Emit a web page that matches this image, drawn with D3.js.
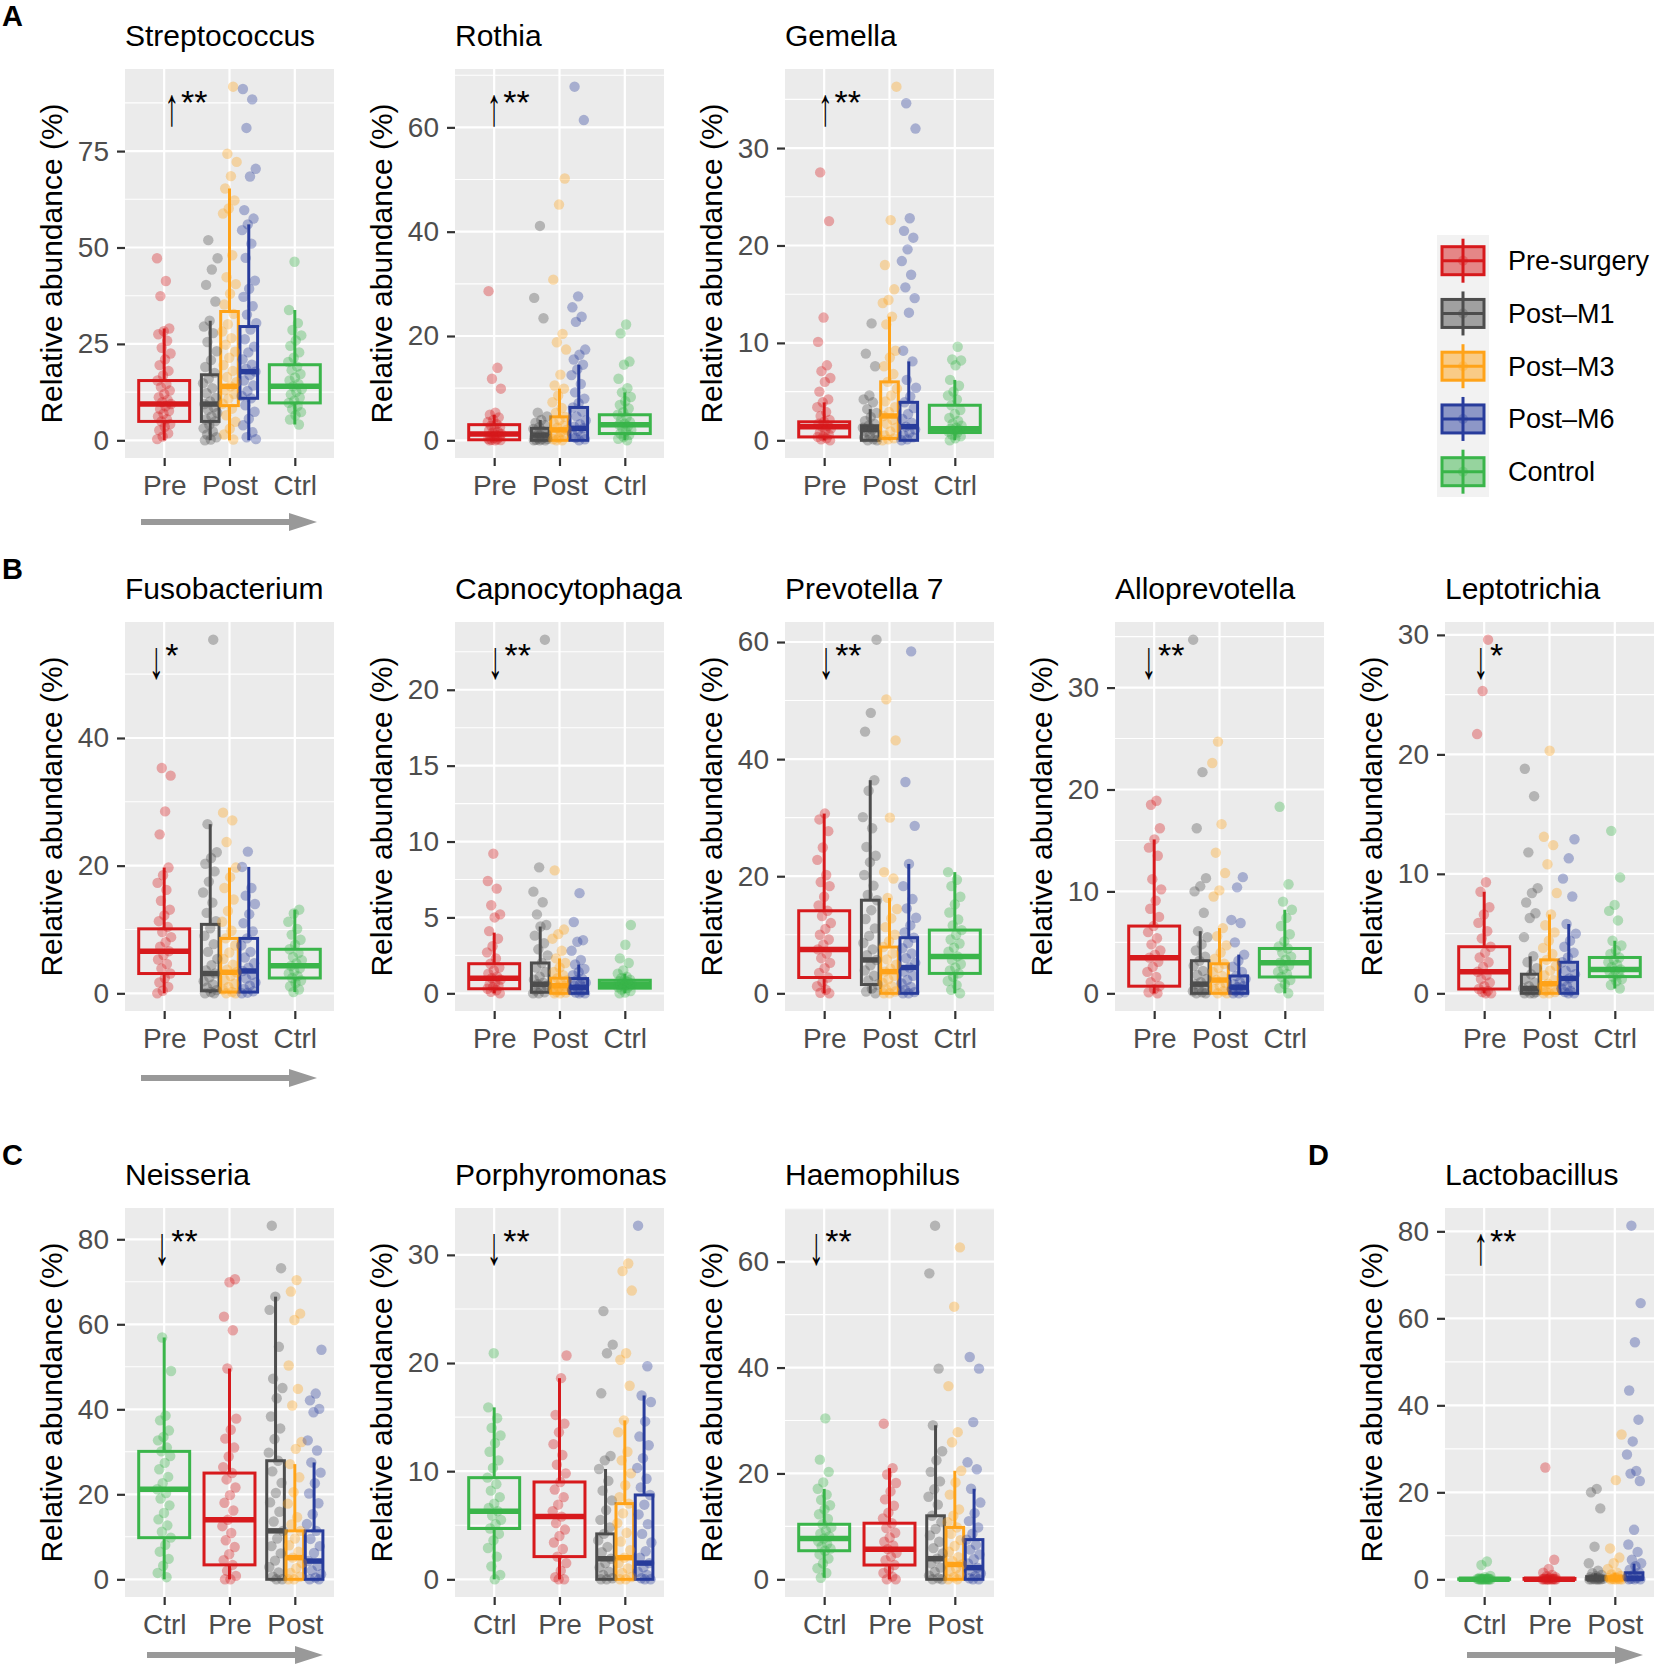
<!DOCTYPE html>
<html><head><meta charset="utf-8">
<script src="https://cdn.jsdelivr.net/npm/d3@7"></script>
<style>body{margin:0;background:#fff;} svg{display:block;}</style>
</head><body>
<svg id="chart" width="1654" height="1666"></svg>
<script>
// ---------------- DATA ----------------
const groupNames = ["Pre-surgery", "Post\u2013M1", "Post\u2013M3", "Post\u2013M6", "Control"];
const genera = ["Streptococcus","Rothia","Gemella","Fusobacterium","Capnocytophaga","Prevotella 7",
  "Alloprevotella","Leptotrichia","Neisseria","Porphyromonas","Haemophilus","Lactobacillus"];
const yTicks = [[0,25,50,75],[0,20,40,60],[0,10,20,30],[0,20,40],[0,5,10,15,20],[0,20,40,60],
  [0,10,20,30],[0,10,20,30],[0,20,40,60,80],[0,10,20,30],[0,20,40,60],[0,20,40,60,80]];
const significance = ["\u2191**","\u2191**","\u2191**","\u2193*","\u2193**","\u2193**","\u2193**","\u2193*","\u2193**","\u2193**","\u2193**","\u2191**"];
const xLabelsPrePostCtrl = ["Pre","Post","Ctrl"];
const xLabelsCtrlPrePost = ["Ctrl","Pre","Post"];
const panelLetters = ["A","B","C","D"];

// box stats per group, order: Pre, M1, M3, M6, Ctrl ; each [lowerWhisker, q1, median, q3, upperWhisker]
const streptococcusBox = [[0,4.9,9.4,15.5,29],[0,4.9,9.4,17,31],[0,9,14,33.4,65.3],[0,10.9,17.8,29.5,56],[4.1,9.7,14,19.6,33.8]];
const rothiaBox = [[0,0.1,1.2,3.0,4.9],[0,0,1.0,2.3,3.9],[0,0,2.0,4.5,9.9],[0,0,2.3,6.3,14.5],[0,1.3,3.0,4.9,9.2]];
const gemellaBox = [[0,0.35,1.4,1.9,3.9],[0,0,1.1,1.5,3.2],[0,0.2,2.5,6.0,12.7],[0,0,1.4,3.9,8.1],[0,0.8,1.2,3.6,6.2]];
const fusobacteriumBox = [[0,3.1,6.6,10.1,19.7],[0,0.4,3.1,10.8,26.5],[0,0.2,3.3,8.6,19.7],[0,0.2,3.5,8.6,19.8],[0.2,2.4,4.3,6.9,13.1]];
const capnocytophagaBox = [[0,0.3,1.0,1.95,4.0],[0,0.07,0.6,2.0,4.4],[0,0,0.5,1.0,2.3],[0,0,0.4,0.97,1.9],[0,0.34,0.6,0.86,1.3]];
const prevotellaBox = [[0,2.7,7.5,14.1,30.7],[0,1.5,5.7,15.9,36.4],[0,0,3.7,7.9,16.3],[0,0,4.4,9.5,22.1],[0,3.4,6.3,10.8,20.7]];
const alloprevotellaBox = [[0,0.7,3.5,6.6,15.1],[0,0,0.9,3.2,6.1],[0,0,1.3,2.9,6.4],[0,0,0.6,1.7,3.8],[0,1.6,3.0,4.4,8.2]];
const leptotrichiaBox = [[0,0.36,1.8,3.9,8.5],[0,0,0.4,1.6,3.1],[0,0,0.8,2.8,6.6],[0,0,1.25,2.6,5.8],[0.4,1.4,2.0,3.0,4.4]];
const neisseriaBox = [[0,3.4,14.0,25.0,49.6],[0,0,11.4,27.9,66.5],[0,0,5.1,11.4,27.1],[0,0,4.3,11.4,27.5],[0,9.8,21.2,30.1,56.9]];
const porphyromonasBox = [[0,2.1,5.8,9.0,18.6],[0,0,1.9,4.2,10.2],[0,0,2.0,7.0,14.7],[0,0,1.5,7.8,17.0],[0,4.7,6.3,9.4,15.9]];
const haemophilusBox = [[0,2.7,5.7,10.6,21.0],[0,0,3.9,12.0,29.1],[0,0,2.8,9.8,20.5],[0,0,2.2,7.5,17.1],[0.3,5.4,7.7,10.4,17.1]];
const lactobacillusBox = [[0,0,0,0.2,0.5],[0,0,0.1,0.6,1.4],[0,0,0.1,0.6,1.5],[0,0,0.2,1.5,3.6],[0,0,0,0.1,0.2]];

// individual samples per group, order: Pre, M1, M3, M6, Ctrl
const streptococcusPts = [
  [47.2,41.3,37.4,29,28.3,27.5,25.8,24,22.5,21,19.5,18,16.8,15.5,14.6,13.8,12.9,12,11.2,10.5,9.9,9.4,8.8,8.1,7.6,6.9,6.2,5.5,4.9,4.2,3.5,2.6,1.8,1.0,0.3],
  [51.9,47.2,44.3,40.3,36,31,29.5,27.8,25.5,23.1,20.8,19,17.5,16,14.8,13.5,12.2,11,10.1,9.4,8.6,7.9,7.1,6.2,5.4,4.9,4,3.1,2.3,1.5,0.8,0.2,0],
  [91.7,74.3,72.2,68.5,65.3,62.2,60.1,58.8,48,42.3,40.5,38,35.2,32.8,30.1,28.2,26.5,24.8,23,21.4,19.5,18,16.4,15.1,14,13,12,10.8,9.5,8.2,6.5,4.8,3,1.5,0.2],
  [91.1,88.4,81,70.4,68.4,59.7,57.5,56,54.5,51,47.3,41.4,39.3,37.2,34.8,32.6,30.4,28.7,26.2,24.3,22.8,21,19.6,18.5,17.8,16.9,15.5,14.2,12.8,11.5,10.9,9.1,7.4,5.6,3.9,2.1,0.8,0.3],
  [46.3,33.8,30.4,28.6,27.2,25.9,24.5,22.8,21.4,20.3,19.1,18.2,17.2,16.3,15.5,14.6,14,13.3,12.6,11.9,11.1,10.3,9.7,8.9,8.1,7.3,6.5,5.4,4.1]];
const rothiaPts = [
  [28.6,13.9,11.8,9.9,5.3,4.9,4.4,3.9,3.5,3.1,2.8,2.5,2.2,1.9,1.6,1.4,1.2,1.0,0.8,0.6,0.5,0.3,0.2,0.1,0.05,0,0],
  [41.1,27.3,23.4,5.3,4.6,3.9,3.4,2.9,2.5,2.2,1.8,1.5,1.2,1.0,0.8,0.6,0.4,0.3,0.2,0.1,0,0,0],
  [50.2,45.2,30.8,20.4,18.8,17.4,12.6,10.5,9.9,8.6,7.3,6.2,5.3,4.5,3.9,3.3,2.8,2.4,2.0,1.6,1.2,0.8,0.5,0.2,0,0],
  [67.8,61.4,27.6,25.5,23.7,22.7,17.4,16.4,15.5,14.5,13.6,12.5,10.8,9.2,8,7.1,6.3,5.5,4.6,3.8,3.1,2.6,2.3,1.8,1.3,0.9,0.5,0.2,0],
  [22.2,20.5,15.1,14.5,11.8,10.0,9.2,8.3,7.5,6.8,6.1,5.4,4.9,4.4,3.9,3.5,3.2,3.0,2.7,2.3,2.0,1.7,1.3,1.0,0.6,0.3,0]];
const gemellaPts = [
  [27.5,22.5,12.6,10.1,7.7,7.1,6.4,6.0,5.0,4.2,3.9,3.4,2.9,2.5,2.1,1.9,1.7,1.5,1.4,1.2,1.0,0.8,0.6,0.4,0.35,0.2,0.1,0],
  [12.0,8.9,7.6,4.6,4.2,3.9,3.2,2.8,2.4,2.0,1.7,1.5,1.3,1.1,0.9,0.7,0.5,0.3,0.1,0,0],
  [36.3,22.6,18.0,15.5,14.4,14.1,12.7,11.9,9.2,8.5,7.6,6.8,6.0,5.3,4.6,4.0,3.4,2.9,2.5,2.1,1.7,1.3,0.9,0.5,0.2,0.1,0],
  [34.6,32.0,22.8,21.5,20.8,19.6,18.4,17.0,15.7,14.6,13.1,9.2,8.1,6.2,5.4,4.5,3.9,3.3,2.7,2.2,1.8,1.4,1.1,0.8,0.5,0.3,0.1,0],
  [9.6,8.3,8.2,7.7,6.2,5.6,5.0,4.6,4.2,3.6,3.1,2.7,2.3,2.0,1.7,1.5,1.3,1.2,1.1,1.0,0.9,0.8,0.6,0.4,0.2,0]];
const fusobacteriumPts = [
  [35.3,34.1,28.5,24.9,19.7,18.5,17.3,16.2,14.5,13.1,12.2,11.3,10.4,9.6,8.8,8.0,7.3,6.6,6.0,5.3,4.6,3.9,3.1,2.4,1.7,1.0,0.4,0],
  [55.4,26.5,22.1,21.2,20.3,19.1,17.5,15.8,14.2,12.6,11.3,10.2,9.0,7.7,6.5,5.4,4.4,3.6,3.1,2.5,1.9,1.4,0.9,0.5,0.2,0,0],
  [28.3,27.1,23.7,19.7,18.2,16.5,14.7,12.9,11.2,9.8,8.6,7.5,6.4,5.4,4.5,3.7,3.3,2.7,2.1,1.5,1.0,0.6,0.2,0,0],
  [22.2,19.8,16.5,15.3,14.0,12.4,11.0,9.7,8.6,7.5,6.5,5.6,4.7,4.0,3.5,2.9,2.3,1.7,1.2,0.7,0.3,0.1,0],
  [13.1,12.5,11.2,10.1,9.2,8.4,7.6,6.9,6.3,5.7,5.2,4.7,4.3,3.9,3.5,3.1,2.7,2.4,2.0,1.6,1.1,0.6,0.2]];
const capnocytophagaPts = [
  [9.2,7.4,6.9,5.8,5.2,5.0,4.1,3.6,3.1,2.7,2.3,1.95,1.7,1.5,1.3,1.1,1.0,0.9,0.7,0.6,0.5,0.4,0.3,0.2,0.1,0],
  [23.3,8.3,6.7,6.0,5.2,4.5,4.4,3.8,3.3,2.9,2.5,2.0,1.7,1.4,1.1,0.9,0.7,0.6,0.5,0.3,0.2,0.07,0,0],
  [8.1,4.2,3.9,3.6,2.8,2.3,2.0,1.7,1.4,1.2,1.0,0.85,0.7,0.6,0.5,0.4,0.3,0.2,0.1,0.05,0,0],
  [6.6,4.7,3.5,3.4,2.8,2.2,1.9,1.6,1.4,1.2,0.97,0.85,0.7,0.6,0.5,0.4,0.3,0.2,0.1,0.05,0,0],
  [4.5,3.2,2.3,2.0,1.5,1.3,1.1,1.0,0.9,0.86,0.8,0.75,0.7,0.65,0.6,0.55,0.5,0.45,0.4,0.34,0.25,0.15,0.05,0]];
const prevotellaPts = [
  [30.7,29.7,27.7,24.9,22.8,20.2,19,18.3,16.5,15,14.1,13.2,12,11,10,9.2,8.3,7.5,6.8,6.0,5.2,4.3,3.5,2.7,1.9,1.2,0.6,0.1,0],
  [60.4,47.9,44.7,36.4,34.6,30.1,28.2,25.0,23.5,22.4,20.2,18.4,16.8,15.9,14.2,12.7,11.1,9.8,8.6,7.5,6.5,5.7,4.8,3.9,3.0,2.2,1.5,0.8,0.3,0],
  [50.2,43.2,30.0,20.7,19.6,16.3,14.4,12.8,11.3,10.0,8.9,7.9,6.8,5.8,4.9,4.2,3.7,3.0,2.4,1.8,1.2,0.7,0.3,0,0],
  [58.4,36.1,28.6,22.1,18.3,16.1,14.5,12.9,11.6,10.4,9.5,8.6,7.7,6.8,6.0,5.2,4.4,3.7,3.0,2.3,1.7,1.1,0.6,0.2,0,0],
  [20.7,19.4,18.3,16.5,15.2,13.8,12.6,11.6,10.8,10.0,9.2,8.5,7.8,7.1,6.3,5.7,5.0,4.4,3.9,3.4,2.8,2.1,1.4,0.6,0]];
const alloprevotellaPts = [
  [18.9,18.5,16.2,15.1,14.3,13.5,11.2,10.2,9.1,8.3,7.5,6.6,6.0,5.4,4.8,4.2,3.8,3.5,3.1,2.6,2.1,1.6,1.1,0.7,0.4,0.1,0],
  [34.7,21.7,16.2,11.3,10.5,10.0,7.9,6.1,5.5,4.8,4.2,3.6,3.2,2.7,2.2,1.8,1.4,1.1,0.9,0.6,0.4,0.2,0.1,0,0],
  [24.7,22.6,16.6,13.8,11.8,10.1,9.5,6.4,5.6,4.7,4.0,3.4,2.9,2.5,2.1,1.7,1.3,1.0,0.7,0.4,0.2,0,0],
  [11.4,10.4,7.2,6.9,5.0,3.8,3.2,2.6,2.1,1.7,1.4,1.1,0.9,0.7,0.6,0.4,0.3,0.2,0.1,0,0],
  [18.3,10.7,9.0,8.2,7.4,6.6,5.8,5.1,4.6,4.4,4.0,3.6,3.3,3.0,2.7,2.4,2.1,1.9,1.6,1.3,0.9,0.5,0]];
const leptotrichiaPts = [
  [29.6,25.3,21.7,9.3,8.5,7.2,6.6,5.9,5.2,4.6,3.9,3.4,3.0,2.6,2.2,1.8,1.5,1.2,0.9,0.6,0.36,0.2,0.1,0,0],
  [18.8,16.5,11.8,8.8,8.4,7.6,6.7,6.3,4.7,3.1,2.6,2.1,1.6,1.2,0.9,0.6,0.4,0.3,0.2,0.1,0,0,0],
  [20.3,13.1,12.4,10.8,8.4,6.6,5.7,5.1,4.4,3.8,3.3,2.8,2.3,1.9,1.5,1.1,0.8,0.6,0.4,0.2,0.1,0,0],
  [12.9,11.3,9.6,8.1,5.8,5.0,4.4,3.9,3.4,3.0,2.6,2.2,1.9,1.6,1.25,1.0,0.8,0.6,0.4,0.2,0.1,0,0],
  [13.6,9.7,7.4,6.9,6.1,4.4,4.0,3.6,3.3,3.0,2.8,2.6,2.4,2.2,2.0,1.9,1.8,1.6,1.4,1.2,1.0,0.7,0.4]];
const neisseriaPts = [
  [70.6,69.9,61.8,58.6,49.6,37.8,35.2,33.1,31.0,28.9,26.4,25.0,23.5,21.6,19.8,18.0,16.2,14.0,12.5,10.9,9.2,7.6,5.9,4.5,3.4,2.0,0.8,0,0],
  [83.2,73.2,66.5,63.4,54.7,47.2,45.0,42.6,38.3,35.5,33.0,29.8,27.9,25.4,22.7,20.3,18.1,15.9,13.6,11.4,9.6,7.8,6.1,4.4,2.9,1.6,0.6,0,0],
  [70.4,67.7,62.5,61.0,50.3,44.8,40.9,32.3,30.7,27.1,24.0,20.5,17.8,14.6,12.9,11.4,9.6,8.0,6.5,5.1,3.8,2.6,1.5,0.6,0,0],
  [54.0,43.7,42.1,40.1,39.3,32.7,30.3,27.5,25.1,22.6,20.2,17.9,15.3,13.0,11.4,9.5,7.8,6.2,4.3,3.2,2.1,1.2,0.4,0,0],
  [56.9,49.0,38.5,37.4,35.0,33.5,32.7,31.0,30.1,29.0,27.4,25.9,24.1,22.6,21.2,20.3,19.0,17.4,15.6,14.1,12.7,11.2,9.8,8.1,6.5,4.8,3.2,1.5,0.5]];
const porphyromonasPts = [
  [20.7,18.6,15.2,14.4,13.6,12.5,11.5,10.6,9.8,9.0,8.3,7.6,6.9,6.3,5.8,5.2,4.6,4.0,3.4,2.8,2.1,1.5,0.8,0.2,0,0],
  [24.8,21.7,20.9,17.2,11.4,11.0,10.2,9.1,8.2,7.3,6.4,5.5,4.8,4.2,3.6,3.0,2.5,1.9,1.5,1.1,0.7,0.4,0.1,0,0],
  [29.2,28.5,26.7,20.9,20.3,17.9,14.7,13.6,11.8,11.0,9.8,8.7,7.6,7.0,6.1,5.2,4.3,3.5,2.7,2.0,1.5,1.0,0.6,0.2,0,0],
  [32.7,19.7,17.0,16.4,14.6,13.2,12.4,11.2,10.3,9.3,8.5,7.8,6.9,6.0,5.1,4.2,3.4,2.6,2.0,1.5,1.1,0.7,0.4,0.1,0,0],
  [20.9,15.9,14.9,14.0,13.3,12.6,11.8,11.0,10.3,9.4,8.8,8.2,7.6,7.0,6.6,6.3,5.9,5.5,5.1,4.7,4.2,3.6,2.9,2.1,1.2,0.4,0]];
const haemophilusPts = [
  [29.4,21.0,19.8,18.2,16.6,15.1,13.9,12.6,11.5,10.6,9.7,8.8,7.9,7.1,6.4,5.7,5.0,4.3,3.6,2.7,1.9,1.2,0.5,0,0],
  [66.8,57.8,39.8,29.1,24.2,22.5,20.3,18.5,17.0,15.6,14.1,12.0,10.8,9.5,8.3,7.1,5.9,4.9,3.9,3.0,2.2,1.4,0.7,0.2,0,0],
  [62.7,51.5,36.5,27.8,25.9,20.5,18.3,16.0,13.2,12.0,10.8,9.8,8.6,7.4,6.3,5.2,4.2,3.4,2.8,2.1,1.5,0.9,0.4,0,0],
  [42.0,39.8,29.7,22.1,20.8,17.1,14.5,12.5,11.0,9.8,8.6,7.5,6.5,5.6,4.7,3.8,3.0,2.2,1.6,1.1,0.6,0.2,0,0],
  [30.4,22.6,20.3,18.3,17.1,16.0,15.0,14.0,13.2,12.3,11.4,10.4,9.8,9.2,8.6,8.1,7.7,7.2,6.7,6.2,5.8,5.4,4.7,3.9,3.0,2.1,1.2,0.3]];
const lactobacillusPts = [
  [25.7,4.5,2.4,1.5,1.0,0.7,0.5,0.3,0.2,0.1,0,0,0,0,0,0,0,0,0,0],
  [20.8,20.0,16.3,7.5,3.7,2.0,1.4,1.0,0.7,0.5,0.3,0.2,0.1,0,0,0,0,0,0],
  [33.3,22.8,7.1,5.0,3.7,2.4,1.5,1.1,0.8,0.5,0.3,0.2,0.1,0,0,0,0,0],
  [81.3,63.5,54.5,43.4,36.7,31.7,28.7,24.9,24.3,22.6,11.4,8.0,6.3,4.5,3.7,3.0,2.2,1.5,1.0,0.6,0.3,0.1,0,0,0],
  [4.1,3.3,0.8,0.5,0.3,0.2,0.15,0.1,0.05,0,0,0,0,0,0,0,0,0,0,0]];

// ---------------- STYLE / LAYOUT ----------------
const groupColors = ["#D7191C", "#4D4D4D", "#FFA319", "#283C9C", "#3AB54A"];
const FONT = '"Liberation Sans", Arial, Helvetica, sans-serif';
const W = 209, H = 389;
const colLeft = [125, 455, 785, 1115, 1445];
const rowTop = [69, 622, 1208];
const panelCol = [0,1,2, 0,1,2,3,4, 0,1,2, 4];
const panelRow = [0,0,0, 1,1,1,1,1, 2,2,2, 2];
const panelOrder = ["PPC","PPC","PPC","PPC","PPC","PPC","PPC","PPC","CPP","CPP","CPP","CPP"];
const sigOffset = [0.12,0,0.02,-0.12,0.02,0.03,-0.08,-0.05,-0.03,0,-0.12,-0.05];
const letterPanels = [0,3,8,11];
const trendArrowPanels = [0,3,8,11];
const trendArrowStyle = [[16,192,64],[16,192,67],[22,198,58],[22,198,58]];

const allBoxes = [streptococcusBox,rothiaBox,gemellaBox,fusobacteriumBox,capnocytophagaBox,prevotellaBox,
  alloprevotellaBox,leptotrichiaBox,neisseriaBox,porphyromonasBox,haemophilusBox,lactobacillusBox];
const allPts = [streptococcusPts,rothiaPts,gemellaPts,fusobacteriumPts,capnocytophagaPts,prevotellaPts,
  alloprevotellaPts,leptotrichiaPts,neisseriaPts,porphyromonasPts,haemophilusPts,lactobacillusPts];

const svg = d3.select("#chart").attr("font-family", FONT);
const defs = svg.append("defs");

genera.forEach((name, p) => {
  const left = colLeft[panelCol[p]], top = rowTop[panelRow[p]];
  const pts = allPts[p], bx = allBoxes[p];
  const yMax = d3.max(pts.flat());
  const y = d3.scaleLinear().domain([-0.05 * yMax, 1.05 * yMax]).range([top + H, top]);
  const x = d3.scaleLinear().domain([0.4, 3.6]).range([left, left + W]);
  const ppc = panelOrder[p] === "PPC";
  const catOf = ppc ? [1,2,2,2,3] : [2,3,3,3,1];
  const dodgeOf = [0,-1,0,1,0];
  const dodged = [false,true,true,true,false];
  const labels = ppc ? xLabelsPrePostCtrl : xLabelsCtrlPrePost;
  const g = svg.append("g");

  // panel background
  g.append("rect").attr("x", left).attr("y", top).attr("width", W).attr("height", H).attr("fill", "#EBEBEB");
  // minor grid
  const ticks = yTicks[p];
  const step = ticks[1] - ticks[0];
  const [d0, d1] = y.domain();
  const minors = [];
  for (let v = ticks[0] - step / 2; v <= d1; v += step) if (v >= d0) minors.push(v);
  g.selectAll(".minor").data(minors).join("line")
    .attr("x1", left).attr("x2", left + W).attr("y1", d => y(d)).attr("y2", d => y(d))
    .attr("stroke", "#fff").attr("stroke-width", 1.1);
  g.selectAll(".major").data(ticks).join("line")
    .attr("x1", left).attr("x2", left + W).attr("y1", d => y(d)).attr("y2", d => y(d))
    .attr("stroke", "#fff").attr("stroke-width", 2.2);
  g.selectAll(".vmajor").data([1,2,3]).join("line")
    .attr("x1", d => x(d)).attr("x2", d => x(d)).attr("y1", top).attr("y2", top + H)
    .attr("stroke", "#fff").attr("stroke-width", 2.2);

  // axes
  const ay = g.append("g").attr("transform", `translate(${left},0)`)
    .call(d3.axisLeft(y).tickValues(ticks).tickSize(8).tickPadding(8).tickFormat(d3.format("d")));
  const ax = g.append("g").attr("transform", `translate(0,${top + H})`)
    .call(d3.axisBottom(x).tickValues([1,2,3]).tickSize(8).tickPadding(9).tickFormat(d => labels[d - 1]));
  [ay, ax].forEach(a => {
    a.select(".domain").remove();
    a.selectAll(".tick line").attr("stroke", "#333").attr("stroke-width", 2.2);
    a.selectAll(".tick text").attr("fill", "#4D4D4D").attr("font-size", 28).attr("font-family", FONT);
  });

  // boxes
  const cx = i => x(catOf[i] + dodgeOf[i] * 0.295);
  const bw = i => (dodged[i] ? 0.27 : 0.78) * (x(1) - x(0));
  bx.forEach((s, i) => {
    const c = groupColors[i], xc = cx(i), w = bw(i);
    g.append("line").attr("x1", xc).attr("x2", xc).attr("y1", y(s[0])).attr("y2", y(s[1]))
      .attr("stroke", c).attr("stroke-width", 3);
    g.append("line").attr("x1", xc).attr("x2", xc).attr("y1", y(s[3])).attr("y2", y(s[4]))
      .attr("stroke", c).attr("stroke-width", 3);
    g.append("rect").attr("x", xc - w / 2).attr("y", y(s[3])).attr("width", w)
      .attr("height", Math.max(0, y(s[1]) - y(s[3]))).attr("fill", "none").attr("stroke", c).attr("stroke-width", 3);
    g.append("line").attr("x1", xc - w / 2).attr("x2", xc + w / 2).attr("y1", y(s[2])).attr("y2", y(s[2]))
      .attr("stroke", c).attr("stroke-width", 5.5);
  });
  // jittered points
  pts.forEach((arr, i) => {
    const half = (dodged[i] ? 0.115 : 0.11) * (x(1) - x(0));
    g.append("g").selectAll("circle").data(arr).join("circle")
      .attr("cx", (d, k) => cx(i) + (((k * 0.6180339887 + i * 0.37 + p * 0.11) % 1) - 0.5) * 2 * half)
      .attr("cy", d => y(d)).attr("r", 5.2)
      .attr("fill", groupColors[i]).attr("fill-opacity", 0.35);
  });

  // title (clipped to column)
  const clipId = "clip" + p;
  defs.append("clipPath").attr("id", clipId).append("rect")
    .attr("x", left - 130).attr("y", top - 70).attr("width", 357).attr("height", 70);
  g.append("text").attr("x", left).attr("y", top - 23).attr("clip-path", `url(#${clipId})`)
    .attr("font-size", 30).attr("fill", "#000").text(name);
  // y axis title
  g.append("text").attr("transform", `translate(${left - 63},${top + H / 2}) rotate(-90)`)
    .attr("text-anchor", "middle").attr("font-size", 30).attr("fill", "#000").text("Relative abundance (%)");

  // significance annotation (arrow glyph + stars)
  const ax0 = x(1 + sigOffset[p]);
  const ytop = y(yMax);
  const sig = significance[p];
  g.append("text").attr("transform", `translate(${ax0},${ytop + 38}) scale(0.55,1)`)
    .attr("text-anchor", "middle").attr("font-size", 54).attr("fill", "#000").text(sig.charAt(0));
  g.append("text").attr("x", ax0 + 9).attr("y", ytop + 27).attr("text-anchor", "start")
    .attr("font-size", 34).attr("fill", "#000").text(sig.slice(1));

  // panel letter
  const li = letterPanels.indexOf(p);
  if (li >= 0) {
    g.append("text").attr("x", p === 11 ? left - 137 : 2).attr("y", top - 43)
      .attr("font-size", 29).attr("font-weight", "bold").attr("fill", "#000").text(panelLetters[li]);
  }
  // trend arrow
  const ti = trendArrowPanels.indexOf(p);
  if (ti >= 0) {
    const [a0, a1, dy] = trendArrowStyle[ti];
    const yy = top + H + dy, xs = left + a0, xe = left + a1;
    g.append("path")
      .attr("d", `M${xs},${yy - 3}L${xe - 28},${yy - 3}L${xe - 28},${yy - 9}L${xe},${yy}L${xe - 28},${yy + 9}L${xe - 28},${yy + 3}L${xs},${yy + 3}Z`)
      .attr("fill", "#999");
  }
});

// legend
const lg = svg.append("g");
lg.append("rect").attr("x", 1437).attr("y", 235).attr("width", 52).attr("height", 262).attr("fill", "#F2F2F2");
groupNames.forEach((n, i) => {
  const cy = 260.7 + i * 52.75, c = groupColors[i];
  lg.append("line").attr("x1", 1463).attr("x2", 1463).attr("y1", cy - 22).attr("y2", cy + 22)
    .attr("stroke", c).attr("stroke-width", 3);
  lg.append("rect").attr("x", 1442).attr("y", cy - 14).attr("width", 42).attr("height", 28)
    .attr("fill", c).attr("fill-opacity", 0.5).attr("stroke", c).attr("stroke-width", 3);
  lg.append("line").attr("x1", 1442).attr("x2", 1484).attr("y1", cy).attr("y2", cy)
    .attr("stroke", c).attr("stroke-width", 3);
  lg.append("circle").attr("cx", 1463).attr("cy", cy).attr("r", 5).attr("fill", c).attr("fill-opacity", 0.33);
  lg.append("text").attr("x", 1508).attr("y", cy).attr("dy", "0.35em").attr("font-size", 27)
    .attr("fill", "#000").text(n);
});
</script>
</body></html>
